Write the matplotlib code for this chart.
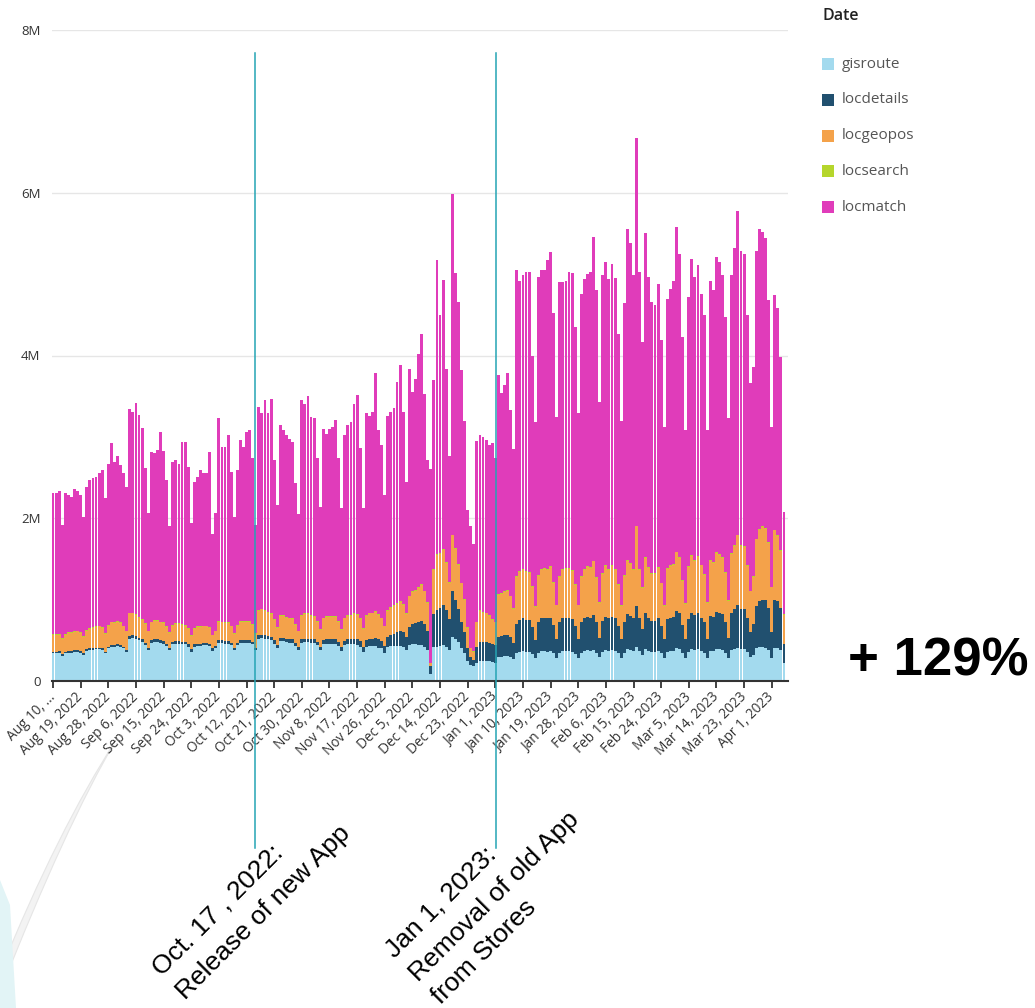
import numpy as np
import pandas as pd
import matplotlib
matplotlib.use("Agg")
import matplotlib.pyplot as plt
from matplotlib.transforms import blended_transform_factory
from matplotlib.lines import Line2D
from matplotlib.patches import Rectangle, PathPatch, Polygon
from matplotlib.path import Path

# Daily request counts (millions), one row per week (Sun..Sat); first row starts Wed Aug 10, 2022
gisroute = [
    0.34, 0.34, 0.35, 0.31,
    0.34, 0.35, 0.35, 0.36, 0.36, 0.35, 0.32,
    0.37, 0.38, 0.38, 0.39, 0.39, 0.38, 0.34,
    0.40, 0.42, 0.42, 0.43, 0.42, 0.40, 0.36,
    0.52, 0.53, 0.52, 0.50, 0.48, 0.44, 0.38,
    0.47, 0.48, 0.48, 0.47, 0.46, 0.43, 0.38,
    0.45, 0.46, 0.46, 0.45, 0.45, 0.42, 0.36,
    0.42, 0.43, 0.43, 0.44, 0.44, 0.43, 0.37,
    0.40, 0.47, 0.47, 0.46, 0.46, 0.44, 0.38,
    0.44, 0.47, 0.47, 0.47, 0.47, 0.45, 0.38,
    0.52, 0.53, 0.52, 0.51, 0.50, 0.46, 0.40,
    0.49, 0.49, 0.48, 0.47, 0.47, 0.43, 0.38,
    0.47, 0.48, 0.48, 0.47, 0.47, 0.44, 0.38,
    0.45, 0.46, 0.46, 0.46, 0.46, 0.43, 0.37,
    0.44, 0.45, 0.45, 0.45, 0.44, 0.42, 0.36,
    0.42, 0.43, 0.43, 0.43, 0.41, 0.40, 0.35,
    0.42, 0.43, 0.43, 0.43, 0.43, 0.42, 0.38,
    0.44, 0.45, 0.45, 0.44, 0.44, 0.42, 0.38,
    0.09, 0.42, 0.42, 0.43, 0.44, 0.42, 0.38,
    0.54, 0.52, 0.48, 0.40, 0.35, 0.25, 0.20,
    0.18, 0.22, 0.24, 0.24, 0.24, 0.24, 0.23,
    0.22, 0.30, 0.30, 0.31, 0.31, 0.30, 0.27,
    0.34, 0.36, 0.37, 0.36, 0.36, 0.33, 0.28,
    0.35, 0.37, 0.37, 0.36, 0.37, 0.34, 0.28,
    0.35, 0.37, 0.37, 0.37, 0.36, 0.33, 0.28,
    0.35, 0.37, 0.38, 0.37, 0.38, 0.35, 0.29,
    0.36, 0.38, 0.37, 0.38, 0.37, 0.34, 0.28,
    0.35, 0.39, 0.38, 0.37, 0.42, 0.37, 0.32,
    0.39, 0.37, 0.36, 0.36, 0.37, 0.34, 0.28,
    0.36, 0.37, 0.37, 0.40, 0.39, 0.34, 0.28,
    0.36, 0.39, 0.38, 0.39, 0.37, 0.35, 0.28,
    0.37, 0.37, 0.39, 0.39, 0.38, 0.35, 0.28,
    0.38, 0.39, 0.41, 0.39, 0.39, 0.36, 0.30,
    0.32, 0.40, 0.42, 0.42, 0.41, 0.38, 0.28,
    0.40, 0.40, 0.38, 0.22,
]

locdetails = [
    0.02, 0.02, 0.02, 0.02,
    0.02, 0.02, 0.02, 0.02, 0.02, 0.02, 0.02,
    0.02, 0.02, 0.02, 0.02, 0.02, 0.02, 0.02,
    0.02, 0.02, 0.02, 0.02, 0.02, 0.02, 0.02,
    0.03, 0.03, 0.03, 0.03, 0.03, 0.03, 0.03,
    0.03, 0.03, 0.03, 0.03, 0.03, 0.03, 0.03,
    0.03, 0.03, 0.03, 0.03, 0.03, 0.03, 0.03,
    0.03, 0.03, 0.03, 0.03, 0.03, 0.03, 0.03,
    0.03, 0.03, 0.03, 0.03, 0.03, 0.03, 0.03,
    0.03, 0.03, 0.03, 0.03, 0.03, 0.03, 0.03,
    0.04, 0.04, 0.04, 0.04, 0.04, 0.04, 0.04,
    0.04, 0.04, 0.04, 0.04, 0.04, 0.04, 0.04,
    0.04, 0.04, 0.04, 0.04, 0.04, 0.04, 0.04,
    0.05, 0.05, 0.05, 0.05, 0.05, 0.05, 0.05,
    0.05, 0.06, 0.06, 0.07, 0.07, 0.07, 0.06,
    0.08, 0.09, 0.09, 0.10, 0.10, 0.09, 0.08,
    0.12, 0.14, 0.15, 0.17, 0.18, 0.18, 0.16,
    0.22, 0.25, 0.26, 0.28, 0.30, 0.28, 0.24,
    0.10, 0.40, 0.45, 0.47, 0.50, 0.45, 0.38,
    0.56, 0.48, 0.40, 0.32, 0.25, 0.15, 0.10,
    0.08, 0.20, 0.24, 0.24, 0.24, 0.23, 0.22,
    0.22, 0.24, 0.25, 0.25, 0.26, 0.24, 0.20,
    0.36, 0.39, 0.40, 0.39, 0.39, 0.33, 0.22,
    0.37, 0.40, 0.40, 0.41, 0.41, 0.35, 0.23,
    0.37, 0.40, 0.41, 0.40, 0.40, 0.34, 0.23,
    0.37, 0.40, 0.41, 0.41, 0.43, 0.37, 0.24,
    0.38, 0.41, 0.40, 0.41, 0.40, 0.34, 0.23,
    0.37, 0.43, 0.42, 0.40, 0.50, 0.40, 0.32,
    0.44, 0.40, 0.38, 0.38, 0.40, 0.34, 0.23,
    0.40, 0.41, 0.42, 0.46, 0.44, 0.35, 0.24,
    0.40, 0.45, 0.43, 0.44, 0.41, 0.37, 0.24,
    0.43, 0.42, 0.46, 0.45, 0.44, 0.38, 0.25,
    0.46, 0.49, 0.53, 0.49, 0.49, 0.41, 0.30,
    0.38, 0.52, 0.56, 0.57, 0.58, 0.52, 0.32,
    0.60, 0.58, 0.52, 0.24,
]

locgeopos = [
    0.21, 0.21, 0.20, 0.19,
    0.21, 0.22, 0.22, 0.22, 0.23, 0.22, 0.20,
    0.23, 0.24, 0.25, 0.25, 0.26, 0.25, 0.22,
    0.26, 0.28, 0.27, 0.28, 0.27, 0.25, 0.23,
    0.28, 0.27, 0.26, 0.25, 0.24, 0.23, 0.20,
    0.22, 0.23, 0.23, 0.22, 0.22, 0.20, 0.18,
    0.20, 0.21, 0.21, 0.21, 0.20, 0.19, 0.16,
    0.19, 0.20, 0.20, 0.20, 0.20, 0.19, 0.16,
    0.18, 0.23, 0.22, 0.22, 0.22, 0.20, 0.17,
    0.21, 0.23, 0.23, 0.23, 0.23, 0.21, 0.17,
    0.30, 0.31, 0.30, 0.29, 0.28, 0.25, 0.21,
    0.27, 0.27, 0.26, 0.26, 0.25, 0.22, 0.19,
    0.29, 0.30, 0.30, 0.29, 0.28, 0.25, 0.21,
    0.27, 0.28, 0.28, 0.28, 0.28, 0.25, 0.21,
    0.28, 0.29, 0.29, 0.30, 0.30, 0.27, 0.22,
    0.30, 0.31, 0.31, 0.32, 0.30, 0.28, 0.24,
    0.32, 0.33, 0.34, 0.35, 0.36, 0.34, 0.28,
    0.38, 0.39, 0.40, 0.42, 0.44, 0.40, 0.34,
    0.03, 0.55, 0.68, 0.66, 0.67, 0.58, 0.45,
    0.69, 0.62, 0.55, 0.48, 0.40, 0.25, 0.10,
    0.10, 0.30, 0.38, 0.36, 0.35, 0.33, 0.30,
    0.28, 0.52, 0.52, 0.53, 0.54, 0.50, 0.42,
    0.58, 0.59, 0.60, 0.59, 0.58, 0.50, 0.41,
    0.57, 0.60, 0.61, 0.60, 0.62, 0.52, 0.42,
    0.56, 0.60, 0.60, 0.61, 0.59, 0.51, 0.42,
    0.56, 0.60, 0.61, 0.61, 0.66, 0.55, 0.43,
    0.58, 0.62, 0.60, 0.62, 0.60, 0.50, 0.41,
    0.57, 0.66, 0.64, 0.60, 0.98, 0.60, 0.50,
    0.68, 0.62, 0.58, 0.58, 0.62, 0.52, 0.41,
    0.62, 0.63, 0.64, 0.72, 0.68, 0.54, 0.43,
    0.64, 0.70, 0.67, 0.69, 0.64, 0.58, 0.44,
    0.68, 0.66, 0.72, 0.71, 0.69, 0.60, 0.45,
    0.72, 0.78, 0.85, 0.78, 0.77, 0.64, 0.50,
    0.58, 0.82, 0.88, 0.90, 0.88, 0.80, 0.55,
    0.85, 0.80, 0.70, 0.35,
]

locsearch = [
    0.01, 0.01, 0.01, 0.01,
    0.01, 0.01, 0.01, 0.01, 0.01, 0.01, 0.01,
    0.01, 0.01, 0.01, 0.01, 0.01, 0.01, 0.01,
    0.01, 0.01, 0.01, 0.01, 0.01, 0.01, 0.01,
    0.01, 0.01, 0.01, 0.01, 0.01, 0.01, 0.01,
    0.01, 0.01, 0.01, 0.01, 0.01, 0.01, 0.01,
    0.01, 0.01, 0.01, 0.01, 0.01, 0.01, 0.01,
    0.01, 0.01, 0.01, 0.01, 0.01, 0.01, 0.01,
    0.01, 0.01, 0.01, 0.01, 0.01, 0.01, 0.01,
    0.01, 0.01, 0.01, 0.01, 0.01, 0.01, 0.01,
    0.01, 0.01, 0.01, 0.01, 0.01, 0.01, 0.01,
    0.01, 0.01, 0.01, 0.01, 0.01, 0.01, 0.01,
    0.01, 0.01, 0.01, 0.01, 0.01, 0.01, 0.01,
    0.01, 0.01, 0.01, 0.01, 0.01, 0.01, 0.01,
    0.01, 0.01, 0.01, 0.01, 0.01, 0.01, 0.01,
    0.01, 0.01, 0.01, 0.01, 0.01, 0.01, 0.01,
    0.01, 0.01, 0.01, 0.01, 0.01, 0.01, 0.01,
    0.01, 0.01, 0.01, 0.01, 0.01, 0.01, 0.01,
    0.00, 0.01, 0.01, 0.01, 0.01, 0.01, 0.01,
    0.01, 0.01, 0.01, 0.01, 0.01, 0.01, 0.01,
    0.01, 0.01, 0.01, 0.01, 0.01, 0.01, 0.01,
    0.01, 0.01, 0.01, 0.01, 0.01, 0.01, 0.01,
    0.01, 0.01, 0.01, 0.01, 0.01, 0.01, 0.01,
    0.01, 0.01, 0.01, 0.01, 0.01, 0.01, 0.01,
    0.01, 0.01, 0.01, 0.01, 0.01, 0.01, 0.01,
    0.01, 0.01, 0.01, 0.01, 0.01, 0.01, 0.01,
    0.01, 0.01, 0.01, 0.01, 0.01, 0.01, 0.01,
    0.01, 0.01, 0.01, 0.01, 0.01, 0.01, 0.01,
    0.01, 0.01, 0.01, 0.01, 0.01, 0.01, 0.01,
    0.01, 0.01, 0.01, 0.01, 0.01, 0.01, 0.01,
    0.01, 0.01, 0.01, 0.01, 0.01, 0.01, 0.01,
    0.01, 0.01, 0.01, 0.01, 0.01, 0.01, 0.01,
    0.01, 0.01, 0.01, 0.01, 0.01, 0.01, 0.01,
    0.01, 0.01, 0.01, 0.01, 0.01, 0.01, 0.01,
    0.01, 0.01, 0.01, 0.01,
]

locmatch = [
    1.73, 1.73, 1.76, 1.39,
    1.73, 1.69, 1.66, 1.75, 1.72, 1.68, 1.47,
    1.75, 1.82, 1.83, 1.84, 1.87, 1.93, 1.66,
    1.98, 2.19, 1.97, 2.03, 1.93, 1.87, 1.76,
    2.50, 2.46, 2.60, 2.48, 2.35, 1.91, 1.44,
    2.09, 2.05, 2.09, 2.33, 2.11, 1.80, 1.30,
    2.00, 2.00, 1.96, 2.24, 2.25, 1.98, 1.38,
    1.80, 1.84, 1.92, 1.87, 1.87, 2.16, 1.24,
    1.44, 2.49, 2.15, 2.16, 2.30, 1.89, 1.43,
    1.90, 2.22, 2.14, 2.32, 2.34, 2.04, 1.33,
    2.50, 2.40, 2.58, 2.44, 2.64, 1.95, 1.50,
    2.33, 2.27, 2.23, 2.20, 2.17, 1.73, 1.43,
    2.64, 2.57, 2.67, 2.44, 2.43, 2.00, 1.50,
    2.32, 2.24, 2.30, 2.32, 2.41, 2.00, 1.48,
    2.24, 2.33, 2.37, 2.57, 2.69, 2.09, 1.47,
    2.48, 2.42, 2.46, 2.92, 2.26, 2.12, 1.60,
    2.39, 2.39, 2.42, 2.72, 2.90, 2.35, 1.62,
    2.79, 2.45, 2.59, 2.87, 3.08, 2.42, 1.74,
    2.38, 2.32, 3.61, 2.93, 3.31, 2.38, 1.54,
    4.19, 3.38, 3.22, 2.61, 2.19, 1.44, 1.49,
    1.31, 2.22, 2.15, 2.15, 2.12, 2.09, 2.16,
    2.01, 2.69, 2.46, 2.54, 2.66, 2.28, 1.95,
    3.76, 3.57, 3.61, 3.68, 3.69, 2.83, 2.26,
    3.66, 3.67, 3.66, 3.79, 3.86, 3.30, 2.31,
    3.61, 3.52, 3.53, 3.64, 3.65, 3.16, 2.35,
    3.47, 3.56, 3.59, 3.63, 3.98, 3.52, 2.46,
    3.66, 3.73, 3.56, 3.71, 3.57, 3.08, 2.27,
    3.34, 4.07, 3.93, 3.61, 4.76, 3.65, 3.02,
    3.98, 3.57, 3.33, 3.29, 3.48, 2.98, 2.19,
    3.31, 3.40, 3.48, 3.99, 3.73, 2.99, 2.12,
    3.31, 3.64, 3.48, 3.58, 3.33, 3.19, 2.11,
    3.43, 3.34, 3.63, 3.59, 3.47, 3.13, 2.24,
    3.42, 3.65, 3.97, 3.61, 3.59, 3.08, 2.55,
    2.57, 3.54, 3.69, 3.62, 3.57, 2.97, 1.96,
    2.88, 2.79, 2.37, 1.26,
]

series_names = ["gisroute", "locdetails", "locgeopos", "locsearch", "locmatch"]
series_colors = ["#a3daee", "#21506f", "#f4a24a", "#b5d62c", "#e03cba"]

tick_labels = [
    "Aug 10, ...", "Aug 19, 2022", "Aug 28, 2022", "Sep 6, 2022", "Sep 15, 2022",
    "Sep 24, 2022", "Oct 3, 2022", "Oct 12, 2022", "Oct 21, 2022", "Oct 30, 2022",
    "Nov 8, 2022", "Nov 17, 2022", "Nov 26, 2022", "Dec 5, 2022", "Dec 14, 2022",
    "Dec 23, 2022", "Jan 1, 2023", "Jan 10, 2023", "Jan 19, 2023", "Jan 28, 2023",
    "Feb 6, 2023", "Feb 15, 2023", "Feb 24, 2023", "Mar 5, 2023", "Mar 14, 2023",
    "Mar 23, 2023", "Apr 1, 2023",
]
y_ticks = [0, 2, 4, 6, 8]
y_tick_labels = ["0", "2M", "4M", "6M", "8M"]

events = [
    ("Oct. 17 , 2022:", "Release of new App"),
    ("Jan 1, 2023:", "Removal of old App", "from Stores"),
]
growth_label = "+ 129%"

# ---------------------------------------------------------------- layout
W, H = 1035, 1008
UI_FONT = ["Open Sans", "DejaVu Sans"]
SLIDE_FONT = ["Liberation Sans", "DejaVu Sans"]


def fx(px):
    return px / W


def fy(py):
    return 1 - py / H


values = [np.array(v, dtype=float) for v in (gisroute, locdetails, locgeopos, locsearch, locmatch)]
n = len(gisroute)
for v in values:
    assert len(v) == n
dates = pd.date_range("2022-08-10", periods=n, freq="D")
x = np.arange(n)

fig = plt.figure(figsize=(W / 100, H / 100), dpi=100)
fig.patch.set_facecolor("white")

# slide decoration in the lower-left corner
swoosh = Path(
    [(fx(116), fy(740)), (fx(66), fy(825)), (fx(0), fy(992)),
     (fx(0), fy(972)), (fx(58), fy(830)), (fx(116), fy(740))],
    [Path.MOVETO, Path.CURVE3, Path.CURVE3, Path.LINETO, Path.CURVE3, Path.CURVE3],
)
fig.add_artist(PathPatch(swoosh, transform=fig.transFigure, facecolor="#f3f3f3",
                         edgecolor="#e6e6e6", lw=0.8, zorder=0))
fig.add_artist(Polygon([(fx(0), fy(880)), (fx(10), fy(905)), (fx(16), fy(1008)), (fx(0), fy(1008))],
                       closed=True, transform=fig.transFigure, facecolor="#e2f4f6",
                       edgecolor="none", zorder=0))

ax = fig.add_axes([fx(51.5), fy(681), fx(788) - fx(51.5), fy(30) - fy(681)])
ax.set_xlim(-0.5, n + 0.3)
ax.set_ylim(0, 8)

bottom = np.zeros(n)
for name, vals, color in zip(series_names, values, series_colors):
    ax.bar(x, vals, bottom=bottom, width=0.94, color=color, linewidth=0, label=name, zorder=2)
    bottom += vals

ax.set_yticks(y_ticks)
ax.set_yticklabels(y_tick_labels, fontsize=9.5, color="#333333", family=UI_FONT)
ax.tick_params(axis="y", length=0, pad=8)
ax.yaxis.grid(True, color="#e6e6e6", linewidth=1.0, zorder=0)
ax.set_axisbelow(True)

tick_pos = x[::9][: len(tick_labels)]
ax.set_xticks(tick_pos)
ax.set_xticklabels(tick_labels, rotation=45, ha="right", va="center", rotation_mode="anchor",
                   fontsize=9.8, color="#333333", family=UI_FONT)
ax.tick_params(axis="x", length=5, width=1.3, color="#333333", pad=5)

for side in ("left", "right", "top"):
    ax.spines[side].set_visible(False)
ax.spines["bottom"].set_color("#333333")
ax.spines["bottom"].set_linewidth(1.5)
ax.spines["bottom"].set_zorder(3)

# legend
fig.text(fx(822), fy(16), "Date", fontsize=11.5, fontweight="semibold", color="#222222",
         family=UI_FONT, ha="left", va="center")
for i, (name, color) in enumerate(zip(series_names, series_colors)):
    yc = 64 + i * 35.8
    fig.add_artist(Rectangle((fx(822), fy(yc + 6)), 12 / W, 12 / H, transform=fig.transFigure,
                             facecolor=color, edgecolor="none"))
    fig.text(fx(842), fy(yc), name, fontsize=11, color="#555555", family=UI_FONT,
             ha="left", va="center")

# event markers (positions in day units on the date axis)
marker_x = [65.8, 144.2]
blend = blended_transform_factory(ax.transData, fig.transFigure)
for mx in marker_x:
    fig.add_artist(Line2D([mx, mx], [fy(53), fy(848)], transform=blend,
                          color="#24a4b4", linewidth=1.1, zorder=5))

# event captions, one rotated line each
caption_origins = [(162, 977), (395, 959)]
line_step = 32.6 / np.sqrt(2)
for lines, (ox, oy) in zip(events, caption_origins):
    for k, line in enumerate(lines):
        fig.text(fx(ox + k * line_step), fy(oy + k * line_step), line, rotation=45,
                 rotation_mode="anchor", ha="left", va="baseline", fontsize=19,
                 color="black", family=SLIDE_FONT)

fig.text(fx(848), fy(676), growth_label, fontsize=38, fontweight="bold", color="black",
         family=SLIDE_FONT, ha="left", va="baseline")

fig.savefig("out.png", dpi=100, facecolor="white")
